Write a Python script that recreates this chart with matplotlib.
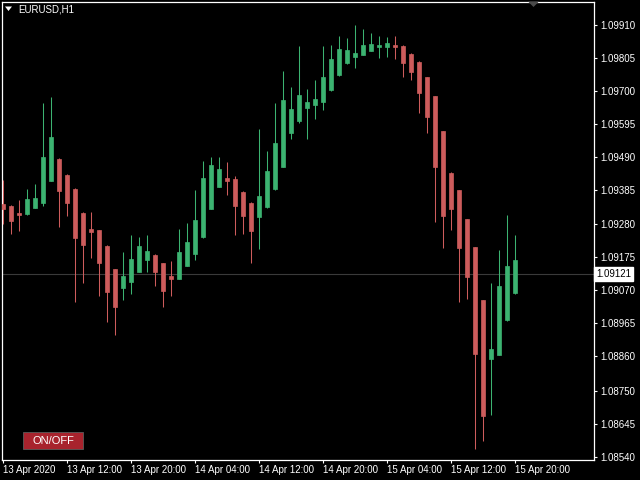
import matplotlib
matplotlib.use("Agg")
import matplotlib.pyplot as plt
from matplotlib.patches import Rectangle, Polygon

# ---- data (EURUSD H1, 13 Apr 2020 04:00 .. 15 Apr 2020 20:00) ----
opens = [1.09342, 1.09336, 1.09314, 1.09310, 1.09331, 1.09346, 1.09416, 1.09486, 1.09435, 1.09391,
         1.09314, 1.09262, 1.09259, 1.09209, 1.09135, 1.09075, 1.09094, 1.09128, 1.09166, 1.09181,
         1.09154, 1.09113, 1.09105, 1.09147, 1.09183, 1.09236, 1.09327, 1.09397, 1.09424, 1.09422,
         1.09380, 1.09346, 1.09300, 1.09333, 1.09389, 1.09460, 1.09566, 1.09604, 1.09647, 1.09655,
         1.09666, 1.09704, 1.09750, 1.09788, 1.09809, 1.09816, 1.09828, 1.09839, 1.09841, 1.09846,
         1.09843, 1.09818, 1.09793, 1.09744, 1.09684, 1.09573, 1.09441, 1.09386, 1.09293, 1.09205,
         1.09037, 1.08851, 1.08864, 1.08974, 1.09059]
highs = [1.09418, 1.09338, 1.09355, 1.09391, 1.09405, 1.09662, 1.09681, 1.09488, 1.09437, 1.09393,
         1.09316, 1.09317, 1.09261, 1.09211, 1.09137, 1.09190, 1.09245, 1.09238, 1.09245, 1.09183,
         1.09156, 1.09160, 1.09262, 1.09281, 1.09386, 1.09479, 1.09490, 1.09490, 1.09475, 1.09431,
         1.09382, 1.09348, 1.09579, 1.09509, 1.09662, 1.09763, 1.09712, 1.09843, 1.09706, 1.09735,
         1.09843, 1.09846, 1.09875, 1.09869, 1.09911, 1.09898, 1.09884, 1.09875, 1.09871, 1.09875,
         1.09845, 1.09820, 1.09795, 1.09746, 1.09686, 1.09575, 1.09443, 1.09388, 1.09295, 1.09207,
         1.09039, 1.09090, 1.09196, 1.09306, 1.09243]
lows = [1.09279, 1.09247, 1.09257, 1.09308, 1.09329, 1.09336, 1.09414, 1.09270, 1.09304, 1.09031,
        1.09092, 1.09171, 1.09050, 1.08968, 1.08925, 1.09037, 1.09056, 1.09126, 1.09126, 1.09082,
        1.09016, 1.09050, 1.09103, 1.09145, 1.09166, 1.09234, 1.09325, 1.09395, 1.09372, 1.09243,
        1.09247, 1.09154, 1.09200, 1.09331, 1.09387, 1.09458, 1.09549, 1.09600, 1.09549, 1.09613,
        1.09640, 1.09702, 1.09748, 1.09786, 1.09774, 1.09814, 1.09826, 1.09805, 1.09809, 1.09803,
        1.09744, 1.09735, 1.09631, 1.09568, 1.09285, 1.09202, 1.09259, 1.09031, 1.09040, 1.08565,
        1.08591, 1.08673, 1.08862, 1.08972, 1.09057]
closes = [1.09327, 1.09289, 1.09308, 1.09359, 1.09361, 1.09492, 1.09554, 1.09382, 1.09346, 1.09234,
          1.09213, 1.09253, 1.09156, 1.09063, 1.09014, 1.09113, 1.09168, 1.09209, 1.09192, 1.09128,
          1.09067, 1.09103, 1.09190, 1.09221, 1.09291, 1.09424, 1.09467, 1.09454, 1.09416, 1.09336,
          1.09304, 1.09257, 1.09367, 1.09448, 1.09537, 1.09672, 1.09644, 1.09687, 1.09666, 1.09676,
          1.09744, 1.09801, 1.09833, 1.09831, 1.09820, 1.09846, 1.09850, 1.09846, 1.09852, 1.09839,
          1.09790, 1.09761, 1.09694, 1.09617, 1.09460, 1.09304, 1.09327, 1.09202, 1.09111, 1.08866,
          1.08669, 1.08881, 1.09082, 1.09147, 1.09164]

x_tick_labels = ["13 Apr 2020", "13 Apr 12:00", "13 Apr 20:00", "14 Apr 04:00", "14 Apr 12:00",
                 "14 Apr 20:00", "15 Apr 04:00", "15 Apr 12:00", "15 Apr 20:00"]
y_tick_labels = ["1.09910", "1.09805", "1.09700", "1.09595", "1.09490", "1.09385", "1.09280",
                 "1.09175", "1.09070", "1.08965", "1.08860", "1.08750", "1.08645", "1.08540"]
bid_price = 1.09121
symbol_label = "EURUSD,H1"
button_label = "ON/OFF"

BULL = "#3cb371"
BEAR = "#cd5c5c"
FONT = "Liberation Sans"

W, H = 640, 480
fig = plt.figure(figsize=(6.4, 4.8), dpi=100, facecolor="black")
ax = fig.add_axes([2 / W, 20 / H, 592 / W, 458 / H])
ax.set_facecolor("black")

px_per_bar = 8.0
ax.set_xlim(-1 / px_per_bar, 591 / px_per_bar)
ax.set_ylim(1.08530, 1.09983)

for i, (o, h, l, c) in enumerate(zip(opens, highs, lows, closes)):
    col = BULL if c >= o else BEAR
    ax.vlines(i, l, h, color=col, linewidth=0.75, zorder=3)
    ax.bar(i, abs(c - o), bottom=min(o, c), width=0.62, color=col,
           edgecolor=col, linewidth=0.5, zorder=4)

# bid line
ax.axhline(bid_price, color="#3a3a3a", linewidth=0.8, zorder=2)
ax.text(1.004, bid_price, f"{bid_price:.5f}", transform=ax.get_yaxis_transform(),
        ha="left", va="center", color="black", fontsize=7, family=FONT,
        bbox=dict(boxstyle="square,pad=0.2", facecolor="white", edgecolor="white"),
        clip_on=False, zorder=10)

# axes styling
for s in ax.spines.values():
    s.set_color("white")
    s.set_linewidth(0.9)

ax.yaxis.tick_right()
ax.set_yticks([float(v) for v in y_tick_labels])
ax.set_yticklabels(y_tick_labels)
ax.tick_params(axis="y", colors="white", length=2.5, width=0.8, pad=2,
               labelsize=7, labelcolor="white")
ax.set_xticks([k * 8 for k in range(len(x_tick_labels))])
ax.set_xticklabels(x_tick_labels, ha="left")
ax.tick_params(axis="x", colors="white", length=2.5, width=0.8, pad=1,
               labelsize=7, labelcolor="white")
for lab in ax.get_xticklabels() + ax.get_yticklabels():
    lab.set_family(FONT)

# symbol caption with small triangle
def fy(y):
    return 1 - y / H

fig.patches.append(Polygon([(5 / W, fy(6.5)), (12 / W, fy(6.5)), (8.5 / W, fy(11))],
                           closed=True, facecolor="white", edgecolor="none",
                           transform=fig.transFigure, figure=fig))
fig.text(18 / W, fy(9), symbol_label, color="white", fontsize=7, family=FONT,
         ha="left", va="center")

# shift marker at top
fig.patches.append(Polygon([(528 / W, fy(1.5)), (539 / W, fy(1.5)), (533.5 / W, fy(7))],
                           closed=True, facecolor="#4a4a4a", edgecolor="none",
                           transform=fig.transFigure, figure=fig, zorder=5))

# ON/OFF button
fig.patches.append(Rectangle((23 / W, fy(449)), 60 / W, 17 / H, facecolor="#a8232d",
                             edgecolor="#5a5a5a", linewidth=0.6,
                             transform=fig.transFigure, figure=fig, zorder=5))
fig.text(53 / W, fy(440.5), button_label, color="white", fontsize=8, family=FONT,
         ha="center", va="center", zorder=6)

fig.savefig("out.png", dpi=100, facecolor="black")
